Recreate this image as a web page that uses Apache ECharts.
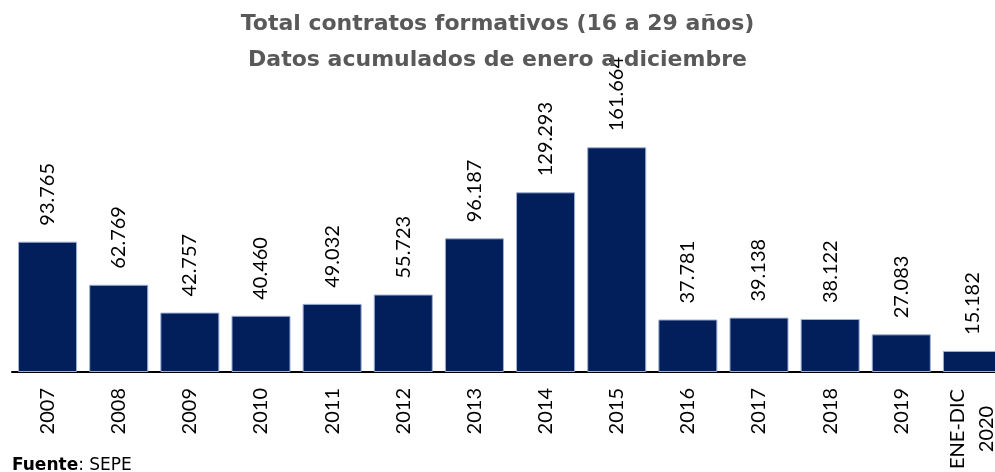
<!DOCTYPE html>
<html>
<head>
<meta charset="utf-8">
<script src="https://cdn.jsdelivr.net/npm/echarts@6/dist/echarts.min.js"></script>
<style>
    html, body { margin: 0; padding: 0; background: #fff; }
    #chart { width: 995px; height: 472px; }
</style>
</head>
<body>
<div id="chart"></div>
<script>
// datos
var categorias = ['2007', '2008', '2009', '2010', '2011', '2012', '2013', '2014', '2015', '2016', '2017', '2018', '2019', 'ENE-DIC\n2020']
var contratos = [93765, 62769, 42757, 40460, 49032, 55723, 96187, 129293, 161664, 37781, 39138, 38122, 27083, 15182]

function puntos(v) {
    return String(v).replace(/\B(?=(\d{3})+(?!\d))/g, '.')
}

var myChart = echarts.init(document.getElementById('chart'))
var option = {
    animation: false,
    textStyle: { fontFamily: 'Lato' },
    title: {
        text: 'Total contratos formativos (16 a 29 años)\nDatos acumulados de enero a diciembre',
        left: 'center',
        top: 1,
        textStyle: {
            fontFamily: 'DejaVu Sans',
            fontWeight: 'bold',
            fontSize: 22,
            lineHeight: 36,
            color: '#595959'
        }
    },
    grid: {
        left: 12,
        right: -13,
        top: 94,
        bottom: 100,
        outerBoundsMode: 'none'
    },
    xAxis: {
        type: 'category',
        data: categorias,
        axisLine: { lineStyle: { color: '#000', width: 2 } },
        axisTick: { show: false },
        axisLabel: {
            rotate: 90,
            interval: 0,
            margin: 16,
            color: '#000',
            fontSize: 20,
            lineHeight: 29,
            // la ultima etiqueta va en dos lineas centradas
            formatter: function(v) {
                if (v.indexOf('\n') < 0) return v
                return v.split('\n').map(function(s) { return '{c|' + s + '}' }).join('\n')
            },
            rich: {
                c: { width: 82, align: 'center', fontSize: 20, lineHeight: 29, color: '#000' }
            }
        }
    },
    yAxis: {
        type: 'value',
        min: 0,
        max: 200000,
        show: false,
        splitLine: { show: false }
    },
    series: [
        {
            type: 'bar',
            data: contratos,
            barCategoryGap: '17%',
            z: 1,
            itemStyle: {
                color: '#021f5b',
                borderColor: '#9fb0d6',
                borderWidth: 1
            },
            label: {
                show: true,
                position: 'top',
                rotate: 90,
                align: 'left',
                verticalAlign: 'middle',
                distance: 16,
                color: '#000',
                fontSize: 20,
                formatter: function(p) {
                    return puntos(p.value)
                }
            }
        }
    ],
    graphic: [
        {
            type: 'text',
            left: 12,
            top: 457,
            style: {
                text: '{b|Fuente}: SEPE',
                fontFamily: 'DejaVu Sans',
                fontSize: 17,
                fill: '#000',
                rich: {
                    b: { fontWeight: 'bold', fontSize: 17, fontFamily: 'DejaVu Sans', fill: '#000' }
                }
            }
        }
    ]
}
myChart.setOption(option)
</script>
</body>
</html>
